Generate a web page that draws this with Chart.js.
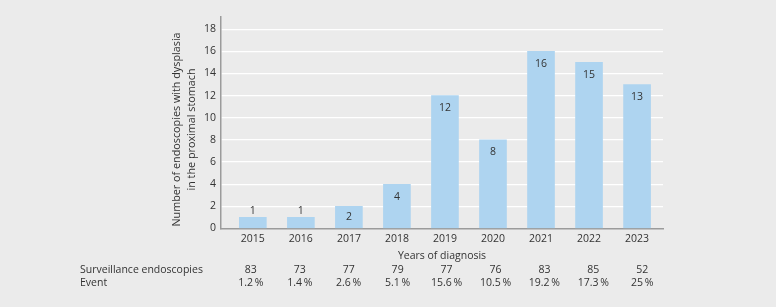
<!DOCTYPE html>
<html lang="en">
<head>
    <meta charset="UTF-8">
    <title>Dysplasia in the proximal stomach</title>
    <script src="https://cdn.jsdelivr.net/npm/chart.js@4.4.1/dist/chart.umd.min.js"></script>
    <style>
        html, body { margin: 0; padding: 0; background: #ebebeb; }
    </style>
</head>
<body>
    <canvas id="dysplasiaChart" width="776" height="307"></canvas>
    <script type="text/javascript">
        const years = [2015, 2016, 2017, 2018, 2019, 2020, 2021, 2022, 2023];
        const dysplasiaCounts = [1, 1, 2, 4, 12, 8, 16, 15, 13];
        const surveillanceEndoscopies = [83, 73, 77, 79, 77, 76, 83, 85, 52];
        const eventRates = [1.2, 1.4, 2.6, 5.1, 15.6, 10.5, 19.2, 17.3, 25];
        const yTicks = [0, 2, 4, 6, 8, 10, 12, 14, 16, 18];
        const yTitle = ['Number of endoscopies with dysplasia', 'in the proximal stomach'];

        const textColor = '#333';
        const fontFamily = "'Open Sans', sans-serif";
        Chart.defaults.font.family = fontFamily;
        Chart.defaults.font.size = 10.5;
        Chart.defaults.color = textColor;

        // bar value labels, y title and the table under the chart
        const extras = {
            id: 'extras',
            afterDatasetsDraw(chart) {
                const ctx = chart.ctx;
                const meta = chart.getDatasetMeta(0);
                ctx.save();
                ctx.font = '10.5px ' + fontFamily;
                ctx.fillStyle = textColor;
                ctx.textAlign = 'center';
                ctx.textBaseline = 'middle';
                meta.data.forEach((bar, i) => {
                    const h = bar.base - bar.y;
                    let y;
                    if (h > 26) y = bar.y + 12.5;
                    else if (h > 16) y = bar.y + h / 2;
                    else y = bar.y - 6;
                    ctx.fillText(String(dysplasiaCounts[i]), bar.x, y);
                });

                // y title sits a little below the middle of the axis
                ctx.save();
                ctx.font = '10.8px ' + fontFamily;
                ctx.translate(176.7, 129.5);
                ctx.rotate(-Math.PI / 2);
                yTitle.forEach((line, i) => ctx.fillText(line, 0, i * 15));
                ctx.restore();

                const x0 = chart.scales.x.getPixelForValue(years[0]);
                ctx.textAlign = 'left';
                ctx.fillText('Surveillance endoscopies', 80, 270);
                ctx.fillText('Event', 80, 283.5);
                ctx.textAlign = 'center';
                years.forEach((yr, i) => {
                    const px = chart.scales.x.getPixelForValue(yr);
                    const tx = x0 - 2 + (px - x0) * 48.9 / 48;
                    ctx.fillText(String(surveillanceEndoscopies[i]), tx, 270);
                    ctx.fillText(eventRates[i] + '\u2009%', tx, 283.5);
                });
                ctx.restore();
            }
        };

        const ctx = document.getElementById('dysplasiaChart');
        new Chart(ctx, {
            type: 'bar',
            data: {
                datasets: [{
                    data: years.map((yr, i) => ({ x: yr, y: dysplasiaCounts[i] })),
                    backgroundColor: '#aed4f0',
                    barThickness: 27
                }]
            },
            options: {
                responsive: false,
                animation: false,
                layout: { padding: { left: 165, top: 17, right: 113, bottom: 43.5 } },
                plugins: {
                    legend: { display: false },
                    tooltip: { enabled: false }
                },
                scales: {
                    x: {
                        type: 'linear',
                        offset: false,
                        min: 2014.337,
                        max: 2023.54,
                        afterBuildTicks: scale => { scale.ticks = years.map(v => ({ value: v })); },
                        afterFit: scale => { scale.height = 35; },
                        ticks: {
                            callback: v => String(v),
                            padding: 4,
                            maxRotation: 0,
                            autoSkip: false
                        },
                        grid: { display: false, drawTicks: false },
                        border: { color: '#9b9b9b', width: 1.5 },
                        title: {
                            display: true,
                            text: 'Years of diagnosis',
                            font: { size: 10.5, lineHeight: '15px' },
                            padding: { top: 0, bottom: 0 }
                        }
                    },
                    y: {
                        min: 0,
                        max: 19.1,
                        afterBuildTicks: scale => { scale.ticks = yTicks.map(v => ({ value: v })); },
                        afterFit: scale => { scale.width = 56; },
                        ticks: { padding: 5 },
                        grid: {
                            drawTicks: false,
                            color: c => (c.tick && c.tick.value === 0) ? 'rgba(0,0,0,0)' : '#ffffff',
                            lineWidth: 1.3
                        },
                        border: { color: '#9b9b9b', width: 1.5 },
                        title: { display: false }
                    }
                }
            },
            plugins: [extras]
        });
    </script>
</body>
</html>
